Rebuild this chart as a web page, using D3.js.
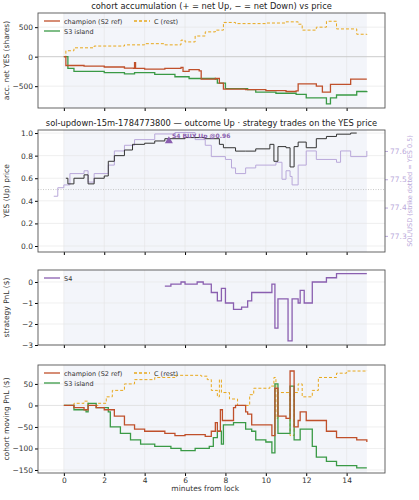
<!DOCTYPE html>
<html><head><meta charset="utf-8">
<script src="https://cdn.jsdelivr.net/npm/d3@7"></script>
<style>
body{margin:0;background:#fff;font-family:"DejaVu Sans",sans-serif;}
text{font-family:"DejaVu Sans",sans-serif;}
</style></head><body>
<svg id="chart" width="419" height="500"></svg>
<script>
// [minutes, value] step series
var accChampion = [[0,0],[0.1,-150],[1,-160],[2,-175],[3,-195],[3.45,-200],[3.5,-100],[3.55,-200],[4,-210],[5,-200],[5.8,-180],[5.9,-250],[6.2,-220],[6.7,-240],[6.8,-380],[7.5,-370],[7.7,-450],[7.9,-550],[9,-560],[10,-575],[11,-590],[11.5,-580],[11.6,-460],[12.5,-500],[12.8,-600],[13.2,-470],[14.2,-380],[15,-380]];
var accS3 = [[0,0],[0.2,-200],[0.5,-250],[2,-270],[3,-290],[3.5,-270],[4.5,-300],[5.5,-340],[6.2,-370],[7.5,-380],[7.6,-450],[8,-540],[9.1,-560],[9.5,-600],[10.5,-620],[11.5,-640],[12,-700],[13,-800],[13.2,-700],[13.5,-650],[14.5,-590],[15,-580]];
var accRest = [[0,0],[0.1,100],[0.5,150],[1.5,180],[3,200],[4,220],[5,200],[5.8,280],[6,250],[6.5,350],[7,420],[7.5,450],[7.9,580],[8.5,560],[10,570],[11,590],[11.6,550],[11.8,450],[12.5,500],[13,600],[13.5,470],[14.5,380],[15,370]];

var yesPrice = [[0.1,0.6],[0.2,0.55],[0.5,0.6],[1,0.63],[1.2,0.55],[1.5,0.6],[2,0.62],[2.2,0.75],[2.5,0.8],[3,0.85],[3.4,0.9],[4,0.91],[4.5,0.93],[5,0.95],[6,0.96],[7,0.95],[7.7,0.9],[7.9,0.87],[8.5,0.84],[9,0.84],[9.5,0.86],[10.2,0.9],[10.4,0.75],[10.6,0.88],[11,0.87],[11.2,0.7],[11.4,0.88],[11.6,0.92],[12,0.87],[12.5,0.95],[13,0.97],[13.5,0.99],[14.2,1.0],[14.5,1.0]];
var solUsd = [[-0.5,77.44],[-0.3,77.47],[0,77.48],[0.3,77.52],[1,77.53],[1.2,77.49],[1.5,77.52],[2.2,77.55],[2.5,77.6],[3,77.62],[3.5,77.64],[4.5,77.66],[5.5,77.665],[6.5,77.64],[7,77.62],[7.3,77.58],[8,77.57],[8.3,77.54],[8.5,77.52],[9,77.54],[9.5,77.55],[10.5,77.56],[10.8,77.5],[11,77.53],[11.2,77.51],[11.3,77.48],[11.6,77.55],[12,77.6],[12.5,77.57],[13.5,77.56],[13.7,77.6],[14.2,77.58],[15,77.6]];
var s4Buy = {t:5.2, p:0.93, label:"S4 BUY Up @0.96"};

var s4Pnl = [[5,-0.2],[5.3,-0.1],[5.8,0],[6,-0.1],[6.6,0],[6.9,-0.1],[7.3,-0.5],[7.6,-0.9],[7.8,-0.3],[8,-1.0],[8.4,-1.3],[8.8,-1.2],[9.1,-0.9],[9.3,-0.5],[10.3,-0.1],[10.45,-2.2],[10.6,-0.8],[11.1,-2.8],[11.3,-0.8],[11.6,-1.0],[11.7,-0.4],[11.9,-1.0],[12.3,0],[13,0.2],[13.5,0.4],[15,0.4]];

var pnlChampion = [[0,0],[0.5,-5],[1,-10],[1.2,0],[1.6,-5],[2,-10],[2.5,-25],[3,-45],[3.5,-55],[4,-60],[5,-65],[5.5,-70],[6,-68],[7,-72],[7.3,-60],[7.5,-40],[7.6,-60],[7.75,-10],[7.85,-35],[8.4,-5],[8.5,0],[9,-15],[9.1,-20],[9.3,-45],[10,-45],[10.3,-70],[10.45,40],[10.6,-25],[11,-30],[11.2,80],[11.4,-50],[11.6,-35],[11.7,-15],[12,-35],[13,-60],[13.5,-75],[14.5,-80],[15,-85]];
var pnlS3 = [[0,0],[0.5,-10],[1.1,-15],[1.2,5],[1.6,-5],[2.2,-15],[2.3,-50],[2.8,-65],[3.3,-80],[3.8,-90],[4.5,-95],[5.3,-100],[5.8,-105],[6.5,-100],[7.2,-95],[7.4,-75],[7.6,-60],[7.8,-90],[7.9,-45],[8.4,-40],[9,-55],[9.3,-60],[9.5,-80],[10,-85],[10.3,-110],[10.45,50],[10.6,-65],[11.2,45],[11.4,-80],[11.7,-55],[12.3,-95],[12.5,-120],[13,-130],[13.5,-140],[14.5,-145],[15,-145]];
var pnlRest = [[0,0],[0.5,5],[1,10],[1.2,0],[1.7,5],[2.1,20],[2.4,35],[3,50],[3.5,60],[4.5,65],[5.5,70],[6,70],[6.8,68],[7.1,60],[7.3,35],[7.6,20],[7.7,60],[7.8,30],[8.2,15],[8.6,0],[9.2,25],[9.4,40],[10.2,45],[10.4,65],[10.5,-30],[10.6,30],[11,30],[11.2,-70],[11.4,30],[11.6,50],[11.8,20],[12.3,35],[12.6,65],[13.5,75],[14,80],[15,82]];

var xTicks = [0,2,4,6,8,10,12,14];
var C_RED="#c0502b", C_GREEN="#3a9a46", C_GOLD="#e8a81c", C_PURPLE="#8a5fb0", C_SOL="#b9a8da";

var svg = d3.select("#chart");
var L = 38, R = 385;
var x = d3.scaleLinear().domain([-1.28, 15.9]).range([L, R]);

function panel(top, bottom, ydom, yticks, fmt, ylab, showX) {
  var y = d3.scaleLinear().domain(ydom).range([bottom, top]);
  var g = svg.append("g");
  g.append("rect").attr("x", L).attr("y", top).attr("width", R-L).attr("height", bottom-top).attr("fill", "#fff");
  g.append("rect").attr("x", x(0)).attr("y", top).attr("width", x(15)-x(0)).attr("height", bottom-top).attr("fill", "#f3f5fa");
  g.selectAll(".gx").data(xTicks).enter().append("line")
    .attr("x1", d => x(d)).attr("x2", d => x(d)).attr("y1", top).attr("y2", bottom)
    .attr("stroke", "#e4e4e4").attr("stroke-width", 0.6);
  g.selectAll(".gy").data(yticks).enter().append("line")
    .attr("x1", L).attr("x2", R).attr("y1", d => y(d)).attr("y2", d => y(d))
    .attr("stroke", "#e4e4e4").attr("stroke-width", 0.6);
  var ax = g.append("g").attr("transform", "translate(" + L + ",0)")
    .call(d3.axisLeft(y).tickValues(yticks).tickFormat(fmt).tickSize(3).tickPadding(2));
  ax.select(".domain").remove();
  ax.selectAll("text").attr("font-size", 7.5).attr("fill", "#333");
  var bx = g.append("g").attr("transform", "translate(0," + bottom + ")")
    .call(d3.axisBottom(x).tickValues(xTicks).tickSize(3).tickPadding(2).tickFormat(showX ? d3.format("d") : ""));
  bx.select(".domain").remove();
  bx.selectAll("text").attr("font-size", 7.5).attr("fill", "#333");
  g.append("text").attr("transform", "translate(9," + ((top+bottom)/2) + ") rotate(-90)")
    .attr("text-anchor", "middle").attr("font-size", 7.5).attr("fill", "#333").text(ylab);
  return {y: y, g: g, top: top, bottom: bottom};
}
function frame(p) {
  p.g.append("rect").attr("x", L).attr("y", p.top).attr("width", R-L).attr("height", p.bottom-p.top)
    .attr("fill", "none").attr("stroke", "#555").attr("stroke-width", 0.9);
}
function step(p, data, color, w, dash, yy) {
  var ys = yy || p.y;
  p.g.append("path").datum(data)
    .attr("d", d3.line().curve(d3.curveStepAfter).x(d => x(d[0])).y(d => ys(d[1])))
    .attr("fill", "none").attr("stroke", color).attr("stroke-width", w)
    .attr("stroke-dasharray", dash || null);
}
function legend(p, items, x0, y0) {
  items.forEach(function(it, i) {
    var lx = x0 + it.col * 90, ly = y0 + it.row * 10;
    p.g.append("line").attr("x1", lx).attr("x2", lx+16).attr("y1", ly).attr("y2", ly)
      .attr("stroke", it.c).attr("stroke-width", 1.3).attr("stroke-dasharray", it.dash || null);
    p.g.append("text").attr("x", lx+20).attr("y", ly+2.5).attr("font-size", 6.5).attr("fill", "#333").text(it.t);
  });
}
function title(t, yPos) {
  svg.append("text").attr("x", (L+R)/2).attr("y", yPos).attr("text-anchor", "middle")
    .attr("font-size", 8.3).attr("fill", "#222").text(t);
}

// panel 1
title("cohort accumulation (+ = net Up, \u2212 = net Down) vs price", 9);
var p1 = panel(13, 108, [-870, 740], [-500, 0, 500], d3.format("d"), "acc. net YES (shares)", false);
p1.g.append("line").attr("x1", L).attr("x2", R).attr("y1", p1.y(0)).attr("y2", p1.y(0)).attr("stroke", "#bbb").attr("stroke-width", 0.6);
step(p1, accRest, C_GOLD, 1, "3,2");
step(p1, accS3, C_GREEN, 1.3);
step(p1, accChampion, C_RED, 1.3);
legend(p1, [{t:"champion (S2 ref)", c:C_RED, col:0, row:0}, {t:"C (rest)", c:C_GOLD, dash:"3,2", col:1, row:0}, {t:"S3 island", c:C_GREEN, col:0, row:1}], 44, 21);
frame(p1);

// panel 2
title("sol-updown-15m-1784773800 \u2014 outcome Up \u00b7 strategy trades on the YES price", 126);
var p2 = panel(130, 252, [-0.053, 1.027], [0, 0.2, 0.4, 0.6, 0.8, 1.0], d3.format(".1f"), "YES (Up) price", false);
var yr = d3.scaleLinear().domain([77.243, 77.674]).range([252, 130]);
p2.g.append("line").attr("x1", L).attr("x2", R).attr("y1", p2.y(0.5)).attr("y2", p2.y(0.5))
  .attr("stroke", "#bbb").attr("stroke-width", 0.8).attr("stroke-dasharray", "1,1.5");
step(p2, solUsd, C_SOL, 1, null, yr);
step(p2, yesPrice, "#333", 1);
p2.g.append("path").attr("d", d3.symbol().type(d3.symbolTriangle).size(28)())
  .attr("transform", "translate(" + x(s4Buy.t) + "," + p2.y(s4Buy.p) + ")").attr("fill", C_PURPLE);
p2.g.append("text").attr("x", x(s4Buy.t)+3).attr("y", p2.y(s4Buy.p)-3).attr("font-size", 6).attr("font-weight", "bold")
  .attr("fill", C_PURPLE).text(s4Buy.label);
var rax = p2.g.append("g").attr("transform", "translate(" + R + ",0)")
  .call(d3.axisRight(yr).tickValues([77.3, 77.4, 77.5, 77.6]).tickFormat(d3.format(".1f")).tickSize(3).tickPadding(2));
rax.select(".domain").remove();
rax.selectAll("line").attr("stroke", C_SOL);
rax.selectAll("text").attr("font-size", 7.5).attr("fill", C_SOL);
p2.g.append("text").attr("transform", "translate(412,191) rotate(-90)").attr("text-anchor", "middle")
  .attr("font-size", 6.5).attr("fill", C_SOL).text("SOL/USD (strike dotted = YES 0.5)");
frame(p2);

// panel 3
var p3 = panel(270, 345, [-3, 0.57], [-3, -2, -1, 0], d3.format("d"), "strategy PnL ($)", false);
step(p3, s4Pnl, C_PURPLE, 1.3);
legend(p3, [{t:"S4", c:C_PURPLE, col:0, row:0}], 44, 278);
frame(p3);

// panel 4
var p4 = panel(365, 473, [-157, 94], [-150, -100, -50, 0, 50], d3.format("d"), "cohort moving PnL ($)", true);
p4.g.append("line").attr("x1", L).attr("x2", R).attr("y1", p4.y(0)).attr("y2", p4.y(0)).attr("stroke", "#ddd").attr("stroke-width", 0.6);
step(p4, pnlRest, C_GOLD, 1, "3,2");
step(p4, pnlS3, C_GREEN, 1.3);
step(p4, pnlChampion, C_RED, 1.3);
legend(p4, [{t:"champion (S2 ref)", c:C_RED, col:0, row:0}, {t:"C (rest)", c:C_GOLD, dash:"3,2", col:1, row:0}, {t:"S3 island", c:C_GREEN, col:0, row:1}], 44, 373);
frame(p4);
svg.append("text").attr("x", x(7)).attr("y", 491).attr("text-anchor", "middle").attr("font-size", 7.5).attr("fill", "#333").text("minutes from lock");
</script>
</body></html>
